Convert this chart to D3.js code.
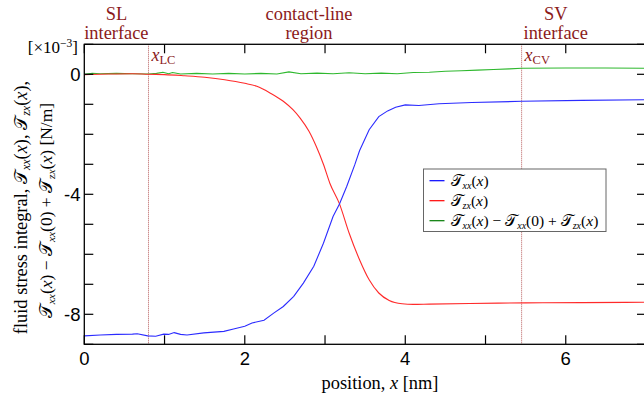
<!DOCTYPE html>
<html>
<head>
<meta charset="utf-8">
<script src="https://cdn.jsdelivr.net/npm/d3@7"></script>
<style>
  body { margin: 0; background: #fff; }
  svg { display: block; }
  .serif { font-family: "Liberation Serif", "DejaVu Serif", serif; }
  .sans { font-family: "Liberation Sans", Arial, sans-serif; }
</style>
</head>
<body>
<div id="chart"></div>
<script>
// T_xx(x) (blue), units 1e-3 N/m
const txxX = [0, 0.2, 0.4, 0.6, 0.66, 0.79, 0.89, 0.99, 1.05, 1.12, 1.2, 1.28, 1.49, 1.74, 1.86, 2.0, 2.09, 2.24, 2.36, 2.48, 2.61, 2.73, 2.86, 2.98, 3.1, 3.18, 3.27, 3.37, 3.43, 3.55, 3.67, 3.78, 3.88, 4.0, 4.17, 4.42, 4.83, 5.45, 6.2, 7.0];
const txxY = [-8.72, -8.69, -8.67, -8.66, -8.65, -8.72, -8.73, -8.66, -8.67, -8.61, -8.67, -8.69, -8.62, -8.57, -8.49, -8.4, -8.29, -8.2, -7.96, -7.74, -7.4, -6.96, -6.4, -5.63, -4.74, -4.32, -3.74, -3.02, -2.55, -1.85, -1.41, -1.22, -1.1, -1.02, -1.04, -0.98, -0.94, -0.9, -0.87, -0.85];

// T_zx(x) (red)
const tzxX = [0, 0.3, 0.6, 0.8, 1.0, 1.25, 1.5, 1.75, 2.0, 2.15, 2.32, 2.48, 2.6, 2.69, 2.8, 2.89, 2.98, 3.06, 3.18, 3.3, 3.43, 3.55, 3.67, 3.8, 3.96, 4.1, 4.3, 4.8, 5.5, 6.2, 7.0];
const tzxY = [-0.01, 0.01, 0.02, 0.0, -0.01, -0.05, -0.1, -0.18, -0.3, -0.4, -0.63, -0.9, -1.18, -1.46, -1.9, -2.4, -3.0, -3.63, -4.32, -5.29, -6.18, -6.85, -7.29, -7.54, -7.65, -7.67, -7.66, -7.64, -7.62, -7.61, -7.6];

// T_xx(x) - T_xx(0) + T_zx(x) (green)
const sumX = [0, 0.1, 0.2, 0.4, 0.6, 0.8, 0.9, 0.98, 1.05, 1.1, 1.2, 1.4, 1.6, 1.8, 2.0, 2.2, 2.4, 2.55, 2.7, 2.9, 3.1, 3.3, 3.5, 3.7, 3.9, 4.1, 4.3, 4.5, 4.7, 4.9, 5.1, 5.3, 5.45, 6.0, 6.5, 7.0];
const sumY = [0.0, 0.03, 0.02, 0.03, 0.02, 0.01, 0.03, 0.07, 0.02, 0.06, 0.01, 0.03, 0.01, 0.03, 0.01, 0.03, 0.01, 0.08, 0.02, 0.04, 0.02, 0.05, 0.02, 0.04, 0.02, 0.06, 0.07, 0.1, 0.12, 0.14, 0.16, 0.18, 0.2, 0.21, 0.21, 0.2];

// interface positions [nm]
const markerX = [0.8, 5.45];
const markerNames = ['LC', 'CV'];

// region captions
const regionX = [0.4, 2.8, 5.875];
const regionLines = [['SL', 'interface'], ['contact-line', 'region'], ['SV', 'interface']];

const xTicks = [0, 1, 2, 3, 4, 5, 6, 7];
const xTickLabels = [0, 2, 4, 6];
const yTicks = [1, 0, -1, -2, -3, -4, -5, -6, -7, -8, -9];
const yTickLabels = [0, -4, -8];

const width = 644, height = 400;
const dark = '#8b1a1a';
const serifSize = '18.4px';

const svg = d3.select('#chart').append('svg')
  .attr('width', width)
  .attr('height', height);

const x = d3.scaleLinear().domain([0, 7]).range([84.3, 646]);
const y = d3.scaleLinear().domain([-9, 1]).range([344.3, 44.3]);
const pLeft = x(0), pRight = x(7), pTop = y(1), pBottom = y(-9);

// interface marker lines
markerX.forEach(v => {
  svg.append('line')
    .attr('x1', x(v)).attr('x2', x(v))
    .attr('y1', pTop).attr('y2', pBottom)
    .attr('stroke', '#b04848')
    .attr('stroke-width', 0.9)
    .attr('stroke-dasharray', '1,1');
});

// curves
const series = [
  { xs: sumX, ys: sumY, color: '#2eb82e', curve: d3.curveLinear },
  { xs: tzxX, ys: tzxY, color: '#ff2a2a', curve: d3.curveMonotoneX },
  { xs: txxX, ys: txxY, color: '#2b2bff', curve: d3.curveLinear }
];
series.forEach(s => {
  const pts = s.xs.map((v, i) => [v, s.ys[i]]);
  svg.append('path')
    .datum(pts)
    .attr('fill', 'none')
    .attr('stroke', s.color)
    .attr('stroke-width', 1.1)
    .attr('d', d3.line().x(d => x(d[0])).y(d => y(d[1])).curve(s.curve));
});

// frame
svg.append('rect')
  .attr('x', pLeft).attr('y', pTop)
  .attr('width', pRight - pLeft).attr('height', pBottom - pTop)
  .attr('fill', 'none')
  .attr('stroke', '#000')
  .attr('stroke-width', 1.3);

// ticks, all pointing inward
const tl = 9;
const tickG = svg.append('g').attr('stroke', '#000').attr('stroke-width', 1.2);
xTicks.forEach(t => {
  tickG.append('line').attr('x1', x(t)).attr('x2', x(t)).attr('y1', pBottom).attr('y2', pBottom - tl);
  tickG.append('line').attr('x1', x(t)).attr('x2', x(t)).attr('y1', pTop).attr('y2', pTop + tl);
});
yTicks.forEach(t => {
  tickG.append('line').attr('x1', pLeft).attr('x2', pLeft + tl).attr('y1', y(t)).attr('y2', y(t));
  tickG.append('line').attr('x1', pRight).attr('x2', pRight - tl).attr('y1', y(t)).attr('y2', y(t));
});

// tick labels
svg.selectAll('.xtl').data(xTickLabels).enter().append('text')
  .attr('class', 'sans')
  .attr('x', d => x(d)).attr('y', 364.5)
  .attr('text-anchor', 'middle')
  .style('font-size', '18.5px')
  .text(d => d);

svg.selectAll('.ytl').data(yTickLabels).enter().append('text')
  .attr('class', 'sans')
  .attr('x', 80.5).attr('y', d => y(d) + 6.7)
  .attr('text-anchor', 'end')
  .style('font-size', '18.5px')
  .text(d => d);

// multiplier
const mult = svg.append('text').attr('class', 'serif')
  .attr('x', 78).attr('y', 53).attr('text-anchor', 'end')
  .style('font-size', '17px');
mult.append('tspan').text('[×10');
mult.append('tspan').attr('dy', -6).style('font-size', '11.5px').text('−3');
mult.append('tspan').attr('dy', 6).text(']');

// x axis title
const xt = svg.append('text').attr('class', 'serif')
  .attr('x', 380).attr('y', 389).attr('text-anchor', 'middle')
  .style('font-size', serifSize);
xt.append('tspan').text('position, ');
xt.append('tspan').style('font-style', 'italic').text('x');
xt.append('tspan').text(' [nm]');

// helper: calligraphic T with subscript and argument
function addT(t, sub, arg) {
  t.append('tspan').text('𝒯');
  t.append('tspan').attr('dy', 3).style('font-size', '0.65em').style('font-style', 'italic').text(sub);
  t.append('tspan').attr('dy', -3).text('(');
  t.append('tspan').style('font-style', arg === 'x' ? 'italic' : 'normal').text(arg);
  t.append('tspan').text(')');
}

// y axis title, two rotated lines
const yt1 = svg.append('text').attr('class', 'serif')
  .attr('transform', 'translate(27,207.5) rotate(-90)')
  .attr('text-anchor', 'middle')
  .style('font-size', serifSize);
yt1.append('tspan').text('fluid stress integral, ');
addT(yt1, 'xx', 'x');
yt1.append('tspan').text(', ');
addT(yt1, 'zx', 'x');
yt1.append('tspan').text(',');

const yt2 = svg.append('text').attr('class', 'serif')
  .attr('transform', 'translate(52,210.5) rotate(-90)')
  .attr('text-anchor', 'middle')
  .style('font-size', '17.5px');
addT(yt2, 'xx', 'x');
yt2.append('tspan').text(' − ');
addT(yt2, 'xx', '0');
yt2.append('tspan').text(' + ');
addT(yt2, 'zx', 'x');
yt2.append('tspan').text(' [N/m]');

// region captions
regionLines.forEach((lines, i) => {
  lines.forEach((s, j) => {
    svg.append('text').attr('class', 'serif')
      .attr('x', x(regionX[i])).attr('y', 20 + j * 18.7)
      .attr('text-anchor', 'middle')
      .style('font-size', serifSize)
      .style('fill', dark)
      .text(s);
  });
});

// marker labels x_LC, x_CV
markerX.forEach((v, i) => {
  const t = svg.append('text').attr('class', 'serif')
    .attr('x', x(v) + 3).attr('y', 61)
    .style('font-size', '18px')
    .style('fill', dark);
  t.append('tspan').style('font-style', 'italic').text('x');
  t.append('tspan').attr('dy', 3).style('font-size', '12.5px').text(markerNames[i]);
});

// legend
const legend = svg.append('g').attr('transform', 'translate(423.5,169)');
legend.append('rect')
  .attr('width', 182.5).attr('height', 62.5)
  .attr('fill', '#fff')
  .attr('stroke', '#666')
  .attr('stroke-width', 1);
const legendColors = ['#0000ff', '#ff0000', '#007a00'];
const legendSubs = ['xx', 'zx'];
legendColors.forEach((c, i) => {
  const ly = 11.7 + i * 20;
  legend.append('line')
    .attr('x1', 6).attr('x2', 21).attr('y1', ly).attr('y2', ly)
    .attr('stroke', c).attr('stroke-width', 1.2);
  const t = legend.append('text').attr('class', 'serif')
    .attr('x', 27).attr('y', ly + 5)
    .style('font-size', '15.5px');
  if (i < 2) {
    addT(t, legendSubs[i], 'x');
  } else {
    addT(t, 'xx', 'x');
    t.append('tspan').text(' − ');
    addT(t, 'xx', '0');
    t.append('tspan').text(' + ');
    addT(t, 'zx', 'x');
  }
});
</script>
</body>
</html>
